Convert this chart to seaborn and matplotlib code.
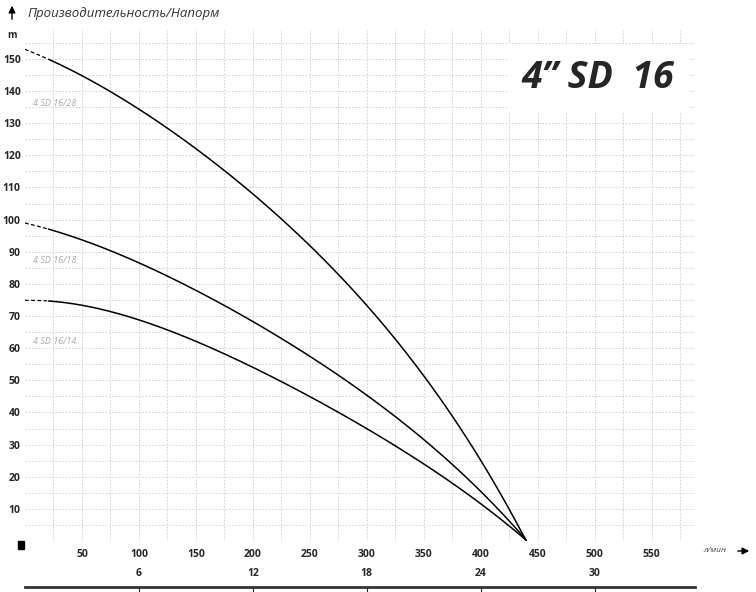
import matplotlib
matplotlib.use("Agg")
import matplotlib.pyplot as plt
import seaborn as sns
import numpy as np

sns.set_style("white")
plt.rcParams['font.family'] = ['Open Sans', 'DejaVu Sans']

flow = [0, 50, 100, 150, 200, 250, 300, 350, 400, 440]
head_28 = [153, 144.5, 135, 121.6, 108, 91.6, 74, 51, 25, 0]
head_18 = [99, 93.6, 86.4, 78, 68.8, 57.3, 45, 31.4, 16, 0]
head_14 = [75, 73, 68.8, 62.5, 54, 45, 34.5, 24, 12, 0]
names = ["4 SD 16/28", "4 SD 16/18", "4 SD 16/14"]
label_y = [136, 87.4, 62]
m3h_ticks = [6, 12, 18, 24, 30]

fig = plt.figure(figsize=(7.56, 5.92), dpi=100)
ax = fig.add_axes([25/756, 1-541/592, 670/756, 511/592])

for h in (head_28, head_18, head_14):
    xs = np.linspace(0, 440, 300)
    c = np.polyfit(flow, h, 4)
    ys = np.polyval(c, xs)
    ys[0], ys[-1] = h[0], 0
    dash = xs <= 20
    sns.lineplot(x=xs[dash], y=ys[dash], ax=ax, color="black", lw=0.9, linestyle=(0, (3, 2)))
    sns.lineplot(x=xs[~dash], y=ys[~dash], ax=ax, color="black", lw=1.1)

for n, yy in zip(names, label_y):
    ax.text(7, yy, n, fontsize=6.5, style="italic", color="#aaaaaa", va="center")

ax.set_xlim(0, 588)
ax.set_ylim(0, 159)
ax.set_xticks(range(25, 588, 25), minor=True)
ax.set_yticks(range(5, 159, 5), minor=True)
ax.set_xticks(range(50, 588, 50))
ax.set_yticks(range(10, 159, 10))
ax.grid(True, which="both", color="#cccccc", lw=0.6, linestyle=(0, (2, 2)))
for s in ax.spines.values():
    s.set_visible(False)
ax.tick_params(length=0, labelsize=7.5)
for t in ax.get_xticklabels() + ax.get_yticklabels():
    t.set_fontweight("bold")
ax.tick_params(axis="x", pad=6)
ax.tick_params(axis="y", pad=3)

ax.text(503, 144, "4\u201d SD  16", fontsize=27, fontweight="bold", style="italic",
        ha="center", va="center",
        bbox=dict(facecolor="white", edgecolor="none", boxstyle="square,pad=0.4"), zorder=5)

fig.text(27/756, 1-13/592, "Производительность/Напорм", fontsize=9.5, style="italic", color="#333333", va="center")
ax.annotate("", xy=(12/756, 1-3/592), xytext=(12/756, 1-22/592), xycoords="figure fraction",
            textcoords="figure fraction", annotation_clip=False,
            arrowprops=dict(arrowstyle="-|>", color="black", lw=1))
fig.text(12/756, 1-35/592, "m", fontsize=7, fontweight="bold", ha="center", va="center")
fig.text(703/756, 1-551/592, "л/мин", fontsize=6, style="italic", color="#444444", va="center")
ax.annotate("", xy=(752/756, 1-551/592), xytext=(735/756, 1-551/592), xycoords="figure fraction",
            textcoords="figure fraction", annotation_clip=False,
            arrowprops=dict(arrowstyle="-|>", color="black", lw=1))
fig.patches.append(plt.Rectangle((18/756, 1-549/592), 6/756, 8/592, transform=fig.transFigure, color="black"))

ax2 = fig.add_axes([25/756, 1-588/592, 670/756, 0.001])
ax2.set_xlim(0, 588 * 0.06)
ax2.set_yticks([])
ax2.set_xticks(m3h_ticks)
for s in ["left", "right", "bottom"]:
    ax2.spines[s].set_visible(False)
ax2.spines["top"].set_linewidth(2)
ax2.spines["top"].set_color("#333333")
ax2.xaxis.tick_top()
ax2.tick_params(axis="x", direction="in", length=4, labelsize=7.5, pad=6)
for t in ax2.get_xticklabels():
    t.set_fontweight("bold")

fig.savefig("out.png", dpi=100)
